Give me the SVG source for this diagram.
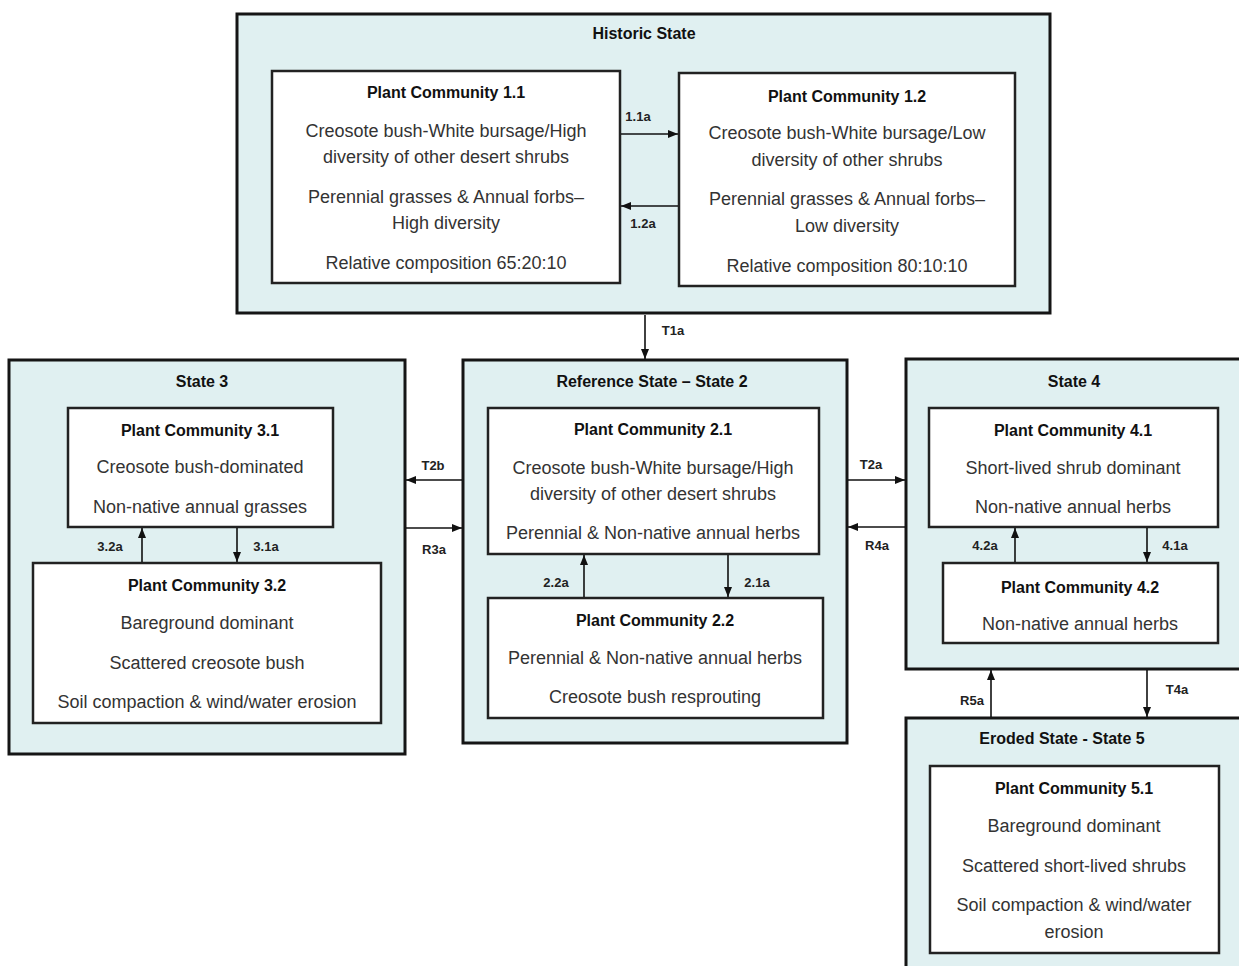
<svg xmlns="http://www.w3.org/2000/svg" width="1239" height="966" viewBox="0 0 1239 966">
<style>
.state{fill:#e0f0f1;stroke:#151515;stroke-width:3}
.pc{fill:#ffffff;stroke:#222;stroke-width:2.5}
.st{font-family:"Liberation Sans",Arial,sans-serif;font-weight:bold;font-size:16px;fill:#111;text-anchor:middle}
.pt{font-family:"Liberation Sans",Arial,sans-serif;font-weight:bold;font-size:16px;fill:#111;text-anchor:middle}
.bt{font-family:"Liberation Sans",Arial,sans-serif;font-size:18px;fill:#333;text-anchor:middle}
.lb{font-family:"Liberation Sans",Arial,sans-serif;font-weight:bold;font-size:13px;fill:#222;text-anchor:middle}
.cn{stroke:#111;stroke-width:1.6;fill:none;marker-end:url(#ah)}
</style>
<defs>
<marker id="ah" markerUnits="userSpaceOnUse" markerWidth="10" markerHeight="10" viewBox="0 0 10 10" refX="10" refY="5" orient="auto">
<path d="M0,1 L10,5 L0,9 Z" fill="#111"/>
</marker>
</defs>
<rect width="1239" height="966" fill="#ffffff"/>

<g id="historic-state">
<rect class="state" x="237" y="14" width="813" height="299"/>
<text class="st" x="644" y="39">Historic State</text>
</g>
<g id="pc-1-1">
<rect class="pc" x="272" y="71" width="348" height="212"/>
<text class="pt" x="446" y="98">Plant Community 1.1</text>
<text class="bt" x="446" y="137">Creosote bush-White bursage/High</text>
<text class="bt" x="446" y="163">diversity of other desert shrubs</text>
<text class="bt" x="446" y="203">Perennial grasses &amp; Annual forbs–</text>
<text class="bt" x="446" y="229">High diversity</text>
<text class="bt" x="446" y="269">Relative composition 65:20:10</text>
</g>
<g id="pc-1-2">
<rect class="pc" x="679" y="73" width="336" height="213"/>
<text class="pt" x="847" y="102">Plant Community 1.2</text>
<text class="bt" x="847" y="139">Creosote bush-White bursage/Low</text>
<text class="bt" x="847" y="166">diversity of other shrubs</text>
<text class="bt" x="847" y="205">Perennial grasses &amp; Annual forbs–</text>
<text class="bt" x="847" y="232">Low diversity</text>
<text class="bt" x="847" y="272">Relative composition 80:10:10</text>
</g>

<g id="state-3">
<rect class="state" x="9" y="360" width="396" height="394"/>
<text class="st" x="202" y="387">State 3</text>
</g>
<g id="pc-3-1">
<rect class="pc" x="68" y="408" width="265" height="119"/>
<text class="pt" x="200" y="436">Plant Community 3.1</text>
<text class="bt" x="200" y="473">Creosote bush-dominated</text>
<text class="bt" x="200" y="513">Non-native annual grasses</text>
</g>
<g id="pc-3-2">
<rect class="pc" x="33" y="563" width="348" height="160"/>
<text class="pt" x="207" y="591">Plant Community 3.2</text>
<text class="bt" x="207" y="629">Bareground dominant</text>
<text class="bt" x="207" y="669">Scattered creosote bush</text>
<text class="bt" x="207" y="708">Soil compaction &amp; wind/water erosion</text>
</g>

<g id="state-2">
<rect class="state" x="463" y="360" width="384" height="383"/>
<text class="st" x="652" y="387">Reference State – State 2</text>
</g>
<g id="pc-2-1">
<rect class="pc" x="488" y="408" width="331" height="146"/>
<text class="pt" x="653" y="435">Plant Community 2.1</text>
<text class="bt" x="653" y="474">Creosote bush-White bursage/High</text>
<text class="bt" x="653" y="500">diversity of other desert shrubs</text>
<text class="bt" x="653" y="539">Perennial &amp; Non-native annual herbs</text>
</g>
<g id="pc-2-2">
<rect class="pc" x="488" y="598" width="335" height="120"/>
<text class="pt" x="655" y="626">Plant Community 2.2</text>
<text class="bt" x="655" y="664">Perennial &amp; Non-native annual herbs</text>
<text class="bt" x="655" y="703">Creosote bush resprouting</text>
</g>

<g id="state-4">
<rect class="state" x="906" y="359" width="345" height="310"/>
<text class="st" x="1074" y="387">State 4</text>
</g>
<g id="pc-4-1">
<rect class="pc" x="929" y="408" width="289" height="119"/>
<text class="pt" x="1073" y="436">Plant Community 4.1</text>
<text class="bt" x="1073" y="474">Short-lived shrub dominant</text>
<text class="bt" x="1073" y="513">Non-native annual herbs</text>
</g>
<g id="pc-4-2">
<rect class="pc" x="943" y="563" width="275" height="80"/>
<text class="pt" x="1080" y="593">Plant Community 4.2</text>
<text class="bt" x="1080" y="630">Non-native annual herbs</text>
</g>

<g id="state-5">
<rect class="state" x="906" y="718" width="345" height="270"/>
<text class="st" x="1062" y="744">Eroded State - State 5</text>
</g>
<g id="pc-5-1">
<rect class="pc" x="930" y="766" width="289" height="187"/>
<text class="pt" x="1074" y="794">Plant Community 5.1</text>
<text class="bt" x="1074" y="832">Bareground dominant</text>
<text class="bt" x="1074" y="872">Scattered short-lived shrubs</text>
<text class="bt" x="1074" y="911">Soil compaction &amp; wind/water</text>
<text class="bt" x="1074" y="938">erosion</text>
</g>

<g id="connectors">
<line class="cn" x1="621" y1="134" x2="678" y2="134"/>
<line class="cn" x1="678" y1="206" x2="621" y2="206"/>
<line class="cn" x1="645" y1="315" x2="645" y2="359"/>
<line class="cn" x1="462" y1="480" x2="406" y2="480"/>
<line class="cn" x1="406" y1="528" x2="462" y2="528"/>
<line class="cn" x1="142" y1="562" x2="142" y2="528"/>
<line class="cn" x1="237" y1="528" x2="237" y2="562"/>
<line class="cn" x1="584" y1="597" x2="584" y2="555"/>
<line class="cn" x1="728" y1="555" x2="728" y2="597"/>
<line class="cn" x1="848" y1="480" x2="905" y2="480"/>
<line class="cn" x1="905" y1="527" x2="848" y2="527"/>
<line class="cn" x1="1015" y1="562" x2="1015" y2="528"/>
<line class="cn" x1="1147" y1="528" x2="1147" y2="562"/>
<line class="cn" x1="991" y1="717" x2="991" y2="670"/>
<line class="cn" x1="1147" y1="670" x2="1147" y2="717"/>
<g id="connector-labels">
<text class="lb" x="638" y="121">1.1a</text>
<text class="lb" x="643" y="228">1.2a</text>
<text class="lb" x="673" y="335">T1a</text>
<text class="lb" x="433" y="470">T2b</text>
<text class="lb" x="434" y="554">R3a</text>
<text class="lb" x="110" y="551">3.2a</text>
<text class="lb" x="266" y="551">3.1a</text>
<text class="lb" x="556" y="587">2.2a</text>
<text class="lb" x="757" y="587">2.1a</text>
<text class="lb" x="871" y="469">T2a</text>
<text class="lb" x="877" y="550">R4a</text>
<text class="lb" x="985" y="550">4.2a</text>
<text class="lb" x="1175" y="550">4.1a</text>
<text class="lb" x="972" y="705">R5a</text>
<text class="lb" x="1177" y="694">T4a</text>
</g>
</g>
</svg>
